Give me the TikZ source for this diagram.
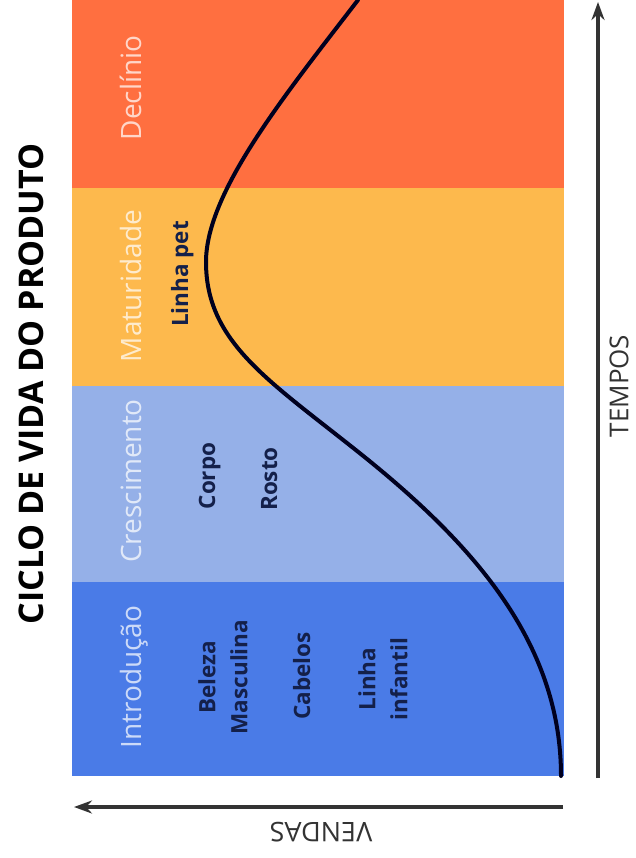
\documentclass[tikz,border=0pt]{standalone}
\usepackage{fontspec}
\setmainfont{Open Sans}
\usepackage{xcolor}
\usepackage{tikz}
\usetikzlibrary{arrows.meta, positioning}
\definecolor{declinio}{HTML}{FF6F40}
\definecolor{maturidade}{HTML}{FDB94D}
\definecolor{crescimento}{HTML}{95B0E8}
\definecolor{introducao}{HTML}{4A7BE7}
\definecolor{produto}{HTML}{14204A}
\definecolor{eixo}{HTML}{333333}

\begin{document}
\begin{tikzpicture}[
        x=1pt, y=-1pt,
        stage/.style={rotate=90, anchor=base, inner sep=0pt, text=white,
                      text opacity=0.72, font=\fontsize{28}{30}\selectfont},
        item/.style={rotate=90, inner sep=0pt, text=produto, align=center,
                     font=\bfseries\fontsize{22.5}{32}\selectfont},
        axis/.style={eixo, line width=4pt, -{Stealth[length=18pt, width=13pt]}},
        curve/.style={line width=4pt, color=black!80!blue!60!black, line cap=round}
      ]
      \useasboundingbox (0,0) rectangle (635,858);
      \fill[white] (0,0) rectangle (635,858);
      % bands
      \fill[declinio]    (72,0)   rectangle (564,188);
      \fill[maturidade]  (72,188) rectangle (564,386);
      \fill[crescimento] (72,386) rectangle (564,582);
      \fill[introducao]  (72,582) rectangle (564,776);
      \node[stage] (S4) at (141,88)  {Declínio};
      \node[stage] (S3) at (141,286) {Maturidade};
      \node[stage] (S2) at (141,481) {Crescimento};
      \node[stage] (S1) at (141,677) {Introdução};
      % products
      \node[item, anchor=base] (P1) at (188,274) {Linha pet};
      \node[item, anchor=base] (P2) at (215,476) {Corpo};
      \node[item, anchor=base] (P3) at (277,479) {Rosto};
      \node[item] (P4) at (223,677) {Beleza\\Masculina};
      \node[item, anchor=base] (P5) at (310,676) {Cabelos};
      \node[item] (P6) at (383,679) {Linha\\infantil};
      % sales curve
      \draw[curve] (561,776)
          .. controls (561,640) and (470,540) .. (352,447)
          .. controls (265,378) and (206,340) .. (206,262)
          .. controls (206,192) and (285,95) .. (358,0);
      % axes
      \coordinate (T0) at (598,778);
      \coordinate (T1) at (598,2);
      \coordinate (V0) at (563,807);
      \coordinate (V1) at (74,807);
      \draw[axis] (T0) -- (T1);
      \draw[axis] (V0) -- (V1);
      \node[rotate=90, inner sep=0pt, text=eixo, font=\fontsize{26}{30}\selectfont]
        (tempos) at (619,386) {TEMPOS};
      \node[rotate=180, inner sep=0pt, text=eixo, font=\fontsize{27}{30}\selectfont]
        (vendas) at (321,832) {VENDAS};
      \node[rotate=90, inner sep=0pt, font=\bfseries\fontsize{34}{36}\selectfont]
        (titulo) at (31,384) {CICLO DE VIDA DO PRODUTO};
    \end{tikzpicture}
\end{document}
